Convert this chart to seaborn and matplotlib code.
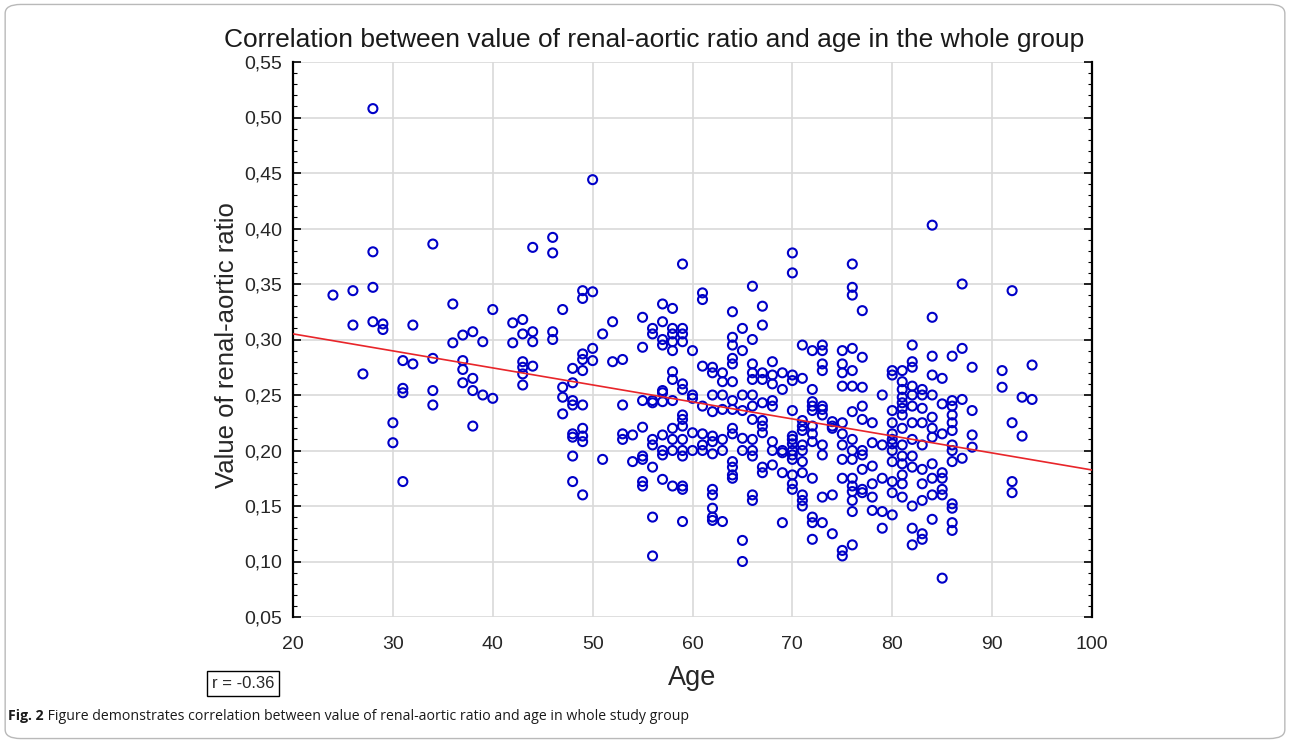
import numpy as np
import pandas as pd
import matplotlib
matplotlib.use("Agg")
import matplotlib.pyplot as plt
from matplotlib.patches import FancyBboxPatch
from matplotlib.ticker import MultipleLocator, FuncFormatter
import seaborn as sns

# ---- data (age -> list of renal-aortic ratio values) ----
ages_24_47 = {
    24: [0.340],
    26: [0.344, 0.313],
    27: [0.269],
    28: [0.508, 0.379, 0.347, 0.316],
    29: [0.314, 0.309],
    30: [0.225, 0.207],
    31: [0.281, 0.256, 0.252, 0.172],
    32: [0.313, 0.278],
    34: [0.386, 0.283, 0.254, 0.241],
    36: [0.332, 0.297],
    37: [0.304, 0.281, 0.273, 0.261],
    38: [0.307, 0.265, 0.254, 0.222],
    39: [0.298, 0.250],
    40: [0.327, 0.247],
    42: [0.315, 0.297],
    43: [0.318, 0.305, 0.280, 0.275, 0.269, 0.259],
    44: [0.383, 0.307, 0.298, 0.276],
    46: [0.392, 0.378, 0.307, 0.300],
    47: [0.327, 0.257, 0.248, 0.233],
}
ages_48_63 = {
    48: [0.274, 0.261, 0.245, 0.241, 0.215, 0.212, 0.195, 0.172],
    49: [0.344, 0.337, 0.287, 0.282, 0.272, 0.241, 0.220, 0.213, 0.208, 0.160],
    50: [0.444, 0.343, 0.292, 0.281],
    51: [0.305, 0.192],
    52: [0.316, 0.280],
    53: [0.282, 0.241, 0.215, 0.210],
    54: [0.214, 0.190],
    55: [0.320, 0.293, 0.245, 0.221, 0.195, 0.192, 0.172, 0.168],
    56: [0.310, 0.305, 0.245, 0.243, 0.210, 0.205, 0.185, 0.140, 0.105],
    57: [0.332, 0.316, 0.300, 0.295, 0.254, 0.252, 0.244, 0.214, 0.200, 0.196, 0.174],
    58: [0.328, 0.310, 0.305, 0.298, 0.290, 0.271, 0.264, 0.245, 0.220, 0.210, 0.200, 0.168],
    59: [0.368, 0.310, 0.305, 0.298, 0.260, 0.255, 0.232, 0.228, 0.222, 0.210, 0.200, 0.195, 0.168, 0.165, 0.136],
    60: [0.290, 0.250, 0.247, 0.216, 0.200],
    61: [0.342, 0.336, 0.276, 0.240, 0.215, 0.205, 0.200],
    62: [0.275, 0.270, 0.250, 0.235, 0.213, 0.208, 0.197, 0.165, 0.160, 0.148, 0.140, 0.137],
    63: [0.270, 0.262, 0.250, 0.237, 0.210, 0.200, 0.136],
}
ages_64_79 = {
    64: [0.325, 0.302, 0.295, 0.283, 0.278, 0.262, 0.245, 0.237, 0.220, 0.215, 0.190, 0.185, 0.178, 0.175],
    65: [0.310, 0.290, 0.250, 0.236, 0.211, 0.200, 0.119, 0.100],
    66: [0.348, 0.300, 0.278, 0.270, 0.264, 0.250, 0.240, 0.228, 0.210, 0.200, 0.195, 0.160, 0.155],
    67: [0.330, 0.313, 0.270, 0.264, 0.243, 0.227, 0.222, 0.216, 0.185, 0.180],
    68: [0.280, 0.268, 0.260, 0.245, 0.240, 0.208, 0.200, 0.187],
    69: [0.270, 0.255, 0.200, 0.198, 0.180, 0.135],
    70: [0.378, 0.360, 0.268, 0.263, 0.236, 0.213, 0.210, 0.206, 0.200, 0.196, 0.192, 0.178, 0.170, 0.165],
    71: [0.295, 0.265, 0.227, 0.222, 0.218, 0.205, 0.200, 0.190, 0.180, 0.160, 0.155, 0.150],
    72: [0.290, 0.255, 0.244, 0.240, 0.236, 0.222, 0.215, 0.208, 0.175, 0.140, 0.135, 0.120],
    73: [0.295, 0.290, 0.278, 0.272, 0.240, 0.237, 0.232, 0.205, 0.196, 0.158, 0.135],
    74: [0.226, 0.222, 0.220, 0.160, 0.125],
    75: [0.290, 0.278, 0.270, 0.258, 0.225, 0.215, 0.205, 0.192, 0.175, 0.110, 0.105],
    76: [0.368, 0.347, 0.340, 0.292, 0.272, 0.258, 0.235, 0.210, 0.200, 0.192, 0.175, 0.168, 0.163, 0.155, 0.145, 0.115],
    77: [0.326, 0.284, 0.257, 0.240, 0.228, 0.200, 0.196, 0.183, 0.165, 0.162],
    78: [0.225, 0.207, 0.186, 0.170, 0.158, 0.146],
    79: [0.250, 0.205, 0.175, 0.145, 0.130],
}
ages_80_94 = {
    80: [0.272, 0.268, 0.236, 0.225, 0.215, 0.210, 0.206, 0.200, 0.190, 0.172, 0.162, 0.142],
    81: [0.272, 0.262, 0.255, 0.248, 0.243, 0.238, 0.232, 0.220, 0.205, 0.195, 0.188, 0.178, 0.170, 0.158],
    82: [0.295, 0.280, 0.275, 0.258, 0.250, 0.240, 0.225, 0.210, 0.195, 0.185, 0.150, 0.130, 0.115],
    83: [0.255, 0.250, 0.238, 0.225, 0.205, 0.183, 0.170, 0.155, 0.125, 0.120],
    84: [0.403, 0.320, 0.285, 0.268, 0.250, 0.230, 0.220, 0.212, 0.188, 0.175, 0.160, 0.138],
    85: [0.265, 0.242, 0.215, 0.180, 0.175, 0.165, 0.160, 0.085],
    86: [0.285, 0.245, 0.240, 0.232, 0.225, 0.218, 0.205, 0.200, 0.190, 0.152, 0.148, 0.135, 0.128],
    87: [0.350, 0.292, 0.246, 0.193],
    88: [0.275, 0.236, 0.214, 0.203],
    91: [0.272, 0.257],
    92: [0.344, 0.225, 0.172, 0.162],
    93: [0.248, 0.213],
    94: [0.277, 0.246],
}

x_ticks = [20, 30, 40, 50, 60, 70, 80, 90, 100]
y_ticks = [0.05, 0.10, 0.15, 0.20, 0.25, 0.30, 0.35, 0.40, 0.45, 0.50, 0.55]

title = "Correlation between value of renal-aortic ratio and age in the whole group"
x_label = "Age"
y_label = "Value of renal-aortic ratio"
r_text = "r = -0.36"
caption_bold = "Fig. 2"
caption_rest = " Figure demonstrates correlation between value of renal-aortic ratio and age in whole study group"

age, ratio = [], []
for group in (ages_24_47, ages_48_63, ages_64_79, ages_80_94):
    for a, vals in group.items():
        for v in vals:
            age.append(a)
            ratio.append(v)
df = pd.DataFrame({"Age": age, "Ratio": ratio})

# ---- figure ----
sns.set_theme(style="white")
plt.rcParams["font.family"] = ["Liberation Sans", "DejaVu Sans"]

fig = plt.figure(figsize=(12.9, 7.43), dpi=100)
fig.patch.set_facecolor("white")

# rounded frame around the whole figure
frame = FancyBboxPatch((0.004, 0.006), 0.992, 0.988,
                       boxstyle="round,pad=0,rounding_size=0.012",
                       transform=fig.transFigure, fill=False,
                       edgecolor="#b9b9b9", linewidth=1.0)
fig.patches.append(frame)

ax = fig.add_axes([293/1290, 1 - 617/743, (1092-293)/1290, (617-62)/743])
ax.set_xlim(20, 100)
ax.set_ylim(0.05, 0.55)

sns.scatterplot(data=df, x="Age", y="Ratio", ax=ax, marker="o",
                s=42, facecolors="none", edgecolor="#0000c8", linewidth=1.5,
                zorder=3)
sns.regplot(data=df, x="Age", y="Ratio", ax=ax, scatter=False, ci=None,
            truncate=False, line_kws={"color": "#e8252a", "linewidth": 1.2, "zorder": 4})

ax.set_xlim(20, 100)
ax.set_ylim(0.05, 0.55)
ax.set_xticks(x_ticks)
ax.set_yticks(y_ticks)
ax.yaxis.set_minor_locator(MultipleLocator(0.01))
ax.yaxis.set_major_formatter(FuncFormatter(lambda v, p: f"{v:.2f}".replace(".", ",")))
ax.grid(True, which="major", color="#d9d9d9", linewidth=1.2, zorder=0)
ax.set_axisbelow(True)

for side in ("top", "bottom"):
    ax.spines[side].set_visible(False)
for side in ("left", "right"):
    ax.spines[side].set_visible(True)
    ax.spines[side].set_color("black")
    ax.spines[side].set_linewidth(1.6)

ax.tick_params(axis="y", which="both", direction="in", left=True, right=True,
               labelleft=True, labelright=False, color="black")
ax.tick_params(axis="y", which="major", length=6, width=1.2, labelsize=14, pad=8)
ax.tick_params(axis="y", which="minor", length=3, width=0.8)
ax.tick_params(axis="x", which="both", bottom=False, top=False, labelsize=14, pad=8)

ax.set_xlabel(x_label, fontsize=19.5, labelpad=8)
ax.set_ylabel(y_label, fontsize=18.5, labelpad=4)
ax.yaxis.set_label_coords(-0.068, 0.49)

fig.text(654/1290, 1 - 40/743, title, fontsize=19, ha="center", va="center",
         color="#1a1a1a")

# r box
fig.text(212/1290, 1 - 683/743, r_text, fontsize=12, va="center", ha="left",
         bbox=dict(boxstyle="square,pad=0.3", facecolor="white", edgecolor="black", linewidth=1.0))

# caption
t1 = fig.text(8/1290, 1 - 716/743, caption_bold, fontsize=10.2, fontweight="bold",
              va="center", ha="left", color="#1a1a1a", family=["Open Sans", "DejaVu Sans"])
fig.canvas.draw()
bb = t1.get_window_extent()
fig.text(bb.x1 / fig.bbox.width, 1 - 716/743, caption_rest, fontsize=10.2,
         va="center", ha="left", color="#1a1a1a", family=["Open Sans", "DejaVu Sans"])

fig.savefig("out.png", dpi=100, facecolor="white")
